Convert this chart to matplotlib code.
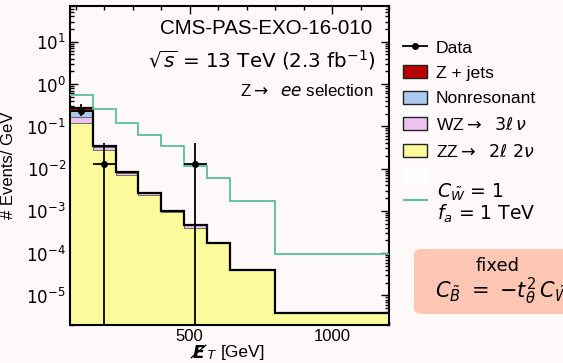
import numpy as np
import matplotlib
matplotlib.use("Agg")
import matplotlib.pyplot as plt
from matplotlib.patches import Patch, FancyBboxPatch
from matplotlib.lines import Line2D
from matplotlib.ticker import LogLocator, MultipleLocator, FixedLocator, NullFormatter

# Missing-ET binning [GeV]
bin_edges = [80, 160, 240, 320, 400, 480, 560, 640, 800, 1200]

# Background expectations, events / GeV
zz_2l2nu = [0.1186, 0.0268, 0.0071, 0.00235, 0.00093, 0.00040, 0.000172, 4.0e-5, 3.9e-6]
wz_3lnu = [0.047, 0.0062, 0.0009, 0.00025, 0.00004, 0.00006, 0.0, 0.0, 0.0]
nonresonant = [0.064, 0.0008, 0.0001, 0.0, 0.0, 0.0, 0.0, 0.0, 0.0]
z_jets = [0.047, 0.0002, 0.0, 0.0, 0.0, 0.0, 0.0, 0.0, 0.0]

# Signal: C_W = 1, f_a = 1 TeV
signal = [0.563, 0.252, 0.117, 0.063, 0.0339, 0.01135, 0.00589, 0.00167, 9.4e-5]

# Observed data (non-empty bins only)
data_x = [120, 200, 520]
data_y = [0.23, 0.0125, 0.0125]
data_xerr = [40, 40, 40]
data_err_lo = [0.05, 0.0125, 0.0125]
data_err_hi = [0.10, 0.0288, 0.0288]

labels = ["Z + jets", "Nonresonant", r"WZ$\rightarrow$  $3\ell\,\nu$", r"ZZ$\rightarrow$  $2\ell\ 2\nu$"]
colors = ["#b80000", "#a9c9ee", "#ebc3ee", "#fbfb9c"]
signal_color = "#5bbf9c"
signal_label = ["$C_{\\tilde{W}}$ = 1", "$f_a$ = 1 TeV"]

W, H = 563, 363
bg = "#fdf9f8"
plt.rcParams["font.family"] = ["Liberation Sans", "DejaVu Sans"]
plt.rcParams["mathtext.fontset"] = "dejavusans"

fig = plt.figure(figsize=(W / 100, H / 100), dpi=100, facecolor=bg)


def fx(px):
    return px / W


def fy(py):
    return 1 - py / H


ax_l, ax_r, ax_t, ax_b = 70, 389, 6, 325
ax = fig.add_axes([fx(ax_l), fy(ax_b), fx(ax_r) - fx(ax_l), fy(ax_t) - fy(ax_b)])
ax.set_facecolor(bg)
ax.set_yscale("log")
ax.set_xlim(80, 1200)
ax.set_ylim(2e-6, 70)

edges = np.array(bin_edges, dtype=float)
stack_order = [zz_2l2nu, wz_3lnu, nonresonant, z_jets]
stack_colors = [colors[3], colors[2], colors[1], colors[0]]
base = np.full(len(zz_2l2nu), 1e-9)
for vals, col in zip(stack_order, stack_colors):
    top = base + np.array(vals)
    ax.stairs(top, edges, baseline=base.copy(), fill=True, color=col, lw=0, zorder=2)
    ax.stairs(top, edges, baseline=None, color="#3a3a3a", lw=0.5, zorder=2.5)
    base = top
ax.stairs(base, edges, baseline=None, color="black", lw=1.6, zorder=3)

ax.stairs(signal, edges, baseline=None, color=signal_color, lw=1.3, zorder=4)

ax.errorbar(data_x, data_y, xerr=data_xerr, yerr=[data_err_lo, data_err_hi],
            fmt="o", color="black", ms=4, lw=1.3, capsize=0, zorder=5)

# Axes styling
for s in ax.spines.values():
    s.set_linewidth(1.5)
ax.xaxis.set_major_locator(FixedLocator([500, 1000]))
ax.xaxis.set_minor_locator(MultipleLocator(100))
ax.yaxis.set_minor_locator(LogLocator(base=10, subs=np.arange(2, 10), numticks=20))
ax.yaxis.set_minor_formatter(NullFormatter())
ax.tick_params(which="both", direction="in", top=True, right=True, labelsize=12, width=1.0)
ax.tick_params(which="major", length=6)
ax.tick_params(which="minor", length=3)
ax.tick_params(axis="y", pad=3)
ax.tick_params(axis="x", pad=3)
ax.set_yticks([1e-5, 1e-4, 1e-3, 1e-2, 1e-1, 1, 10])
ax.set_yticklabels([r"$10^{-5}$", r"$10^{-4}$", r"$10^{-3}$", r"$10^{-2}$",
                    r"$10^{-1}$", r"$10^{0}$", r"$10^{1}$"])
ax.set_xticks([500, 1000])
ax.set_xticklabels(["500", "1000"])

ax.set_ylabel("# Events/ GeV", fontsize=12)
ax.yaxis.set_label_coords((16 - ax_l) / (ax_r - ax_l), 0.5)

# x-axis title: slashed E_T [GeV]
fig.text(fx(206), fy(353), "E\u0338", fontsize=12.5, fontweight="bold", fontstyle="italic",
         ha="right", va="center", family="DejaVu Sans")
fig.text(fx(207), fy(356), "T", fontsize=9.5, fontstyle="italic", ha="left", va="center")
fig.text(fx(221), fy(353), "[GeV]", fontsize=12.5, ha="left", va="center")

# Header texts
fig.text(fx(372), fy(28), "CMS-PAS-EXO-16-010", fontsize=14.8, ha="right", va="center")
fig.text(fx(376), fy(60), r"$\sqrt{s}$ = 13 TeV (2.3 fb$^{-1}$)", fontsize=14.3,
         ha="right", va="center", family="DejaVu Sans",
         math_fontfamily="dejavusans")
fig.text(fx(373), fy(91), r"Z$\rightarrow$  $ee$ selection", fontsize=12.2,
         ha="right", va="center", math_fontfamily="dejavusans")

# Legend: data, background components and an empty spacer row
handles = [Line2D([], [], color="black", marker="o", ms=4, lw=1.3)]
for col in colors:
    handles.append(Patch(facecolor=col, edgecolor="#222222", lw=1.0))
handles.append(Patch(facecolor="white", edgecolor="white"))
leg_labels = ["Data"] + labels + [""]
leg = fig.legend(handles, leg_labels, loc="upper left", bbox_to_anchor=(fx(403), fy(40)),
                 frameon=False, fontsize=12.6, handlelength=1.38, handleheight=0.78,
                 handletextpad=0.5, labelspacing=0.55, borderpad=0.0, borderaxespad=0.0)
for t in leg.get_texts():
    t.set_math_fontfamily("dejavusans")

# Signal entry (two-line label)
fig.add_artist(Line2D([fx(404), fx(427)], [fy(200), fy(200)], color=signal_color, lw=1.5,
                      transform=fig.transFigure))
fig.text(fx(437), fy(192), signal_label[0], fontsize=13.5, ha="left", va="center",
         family="DejaVu Sans", math_fontfamily="dejavusans")
fig.text(fx(437), fy(214), signal_label[1], fontsize=13.5, ha="left", va="center",
         family="DejaVu Sans", math_fontfamily="dejavusans")

# Coupling relation box
box = FancyBboxPatch((fx(414), fy(314)), fx(600) - fx(414), fy(249) - fy(314),
                     boxstyle="round,pad=0,rounding_size=0.015", transform=fig.transFigure,
                     fc="#ffc6b4", ec="none", zorder=1)
fig.patches.append(box)
fig.text(fx(498), fy(266), "fixed", fontsize=13, ha="center", va="center",
         family="DejaVu Sans", zorder=2)
fig.text(fx(435), fy(291), r"$C_{\tilde{B}}\ =\ {-}t_\theta^2\,C_{\tilde{W}}$",
         fontsize=15, ha="left", va="center", math_fontfamily="dejavusans", zorder=2)

fig.savefig("out.png", dpi=100, facecolor=bg)
